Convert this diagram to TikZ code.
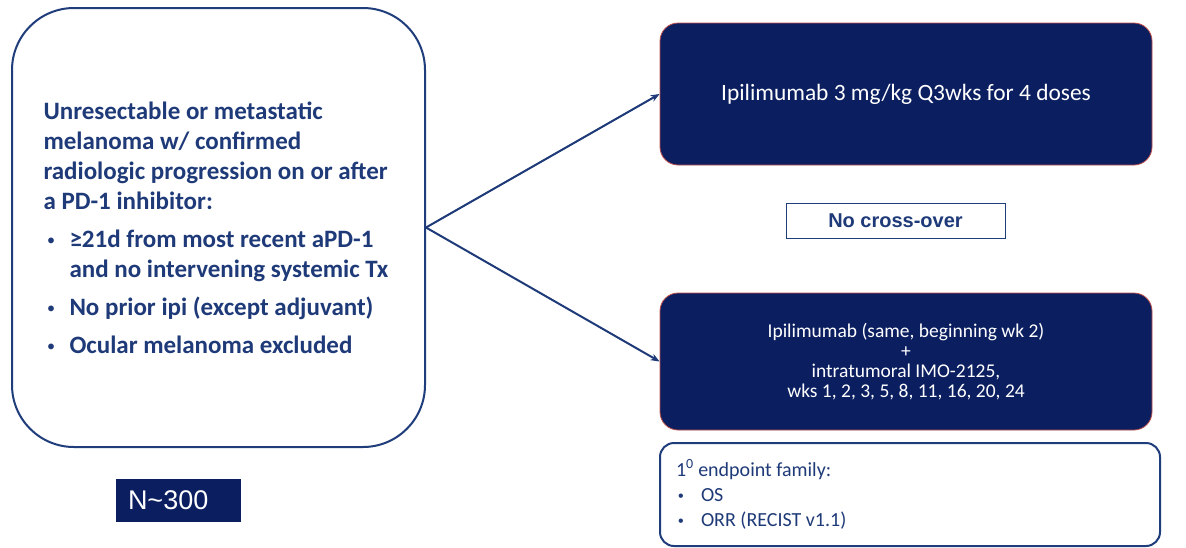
\documentclass[tikz,border=0pt]{standalone}
\usepackage{fontspec}
\setmainfont{Carlito}
\newfontfamily\arialfont{Liberation Sans}
\usetikzlibrary{arrows.meta}
\definecolor{navyfill}{HTML}{0B1F60}
\definecolor{navyline}{HTML}{1F3C7B}
\definecolor{navytext}{HTML}{1F3A78}
\definecolor{redline}{HTML}{C0504D}
\newcommand\smbullet{{\arialfont\scalebox{0.8}{\textbullet}}}
\newcommand\critem[1]{\par\vspace{8pt}\noindent\hangindent=26pt\hangafter=1\makebox[26pt][l]{\hspace{4pt}\smbullet}#1}
\newcommand\epitem[1]{\par\noindent\makebox[25pt][l]{\hspace{2pt}\smbullet}#1}
\tikzset{
  critbox/.style={draw=navyline, line width=2pt, rounded corners=62pt, minimum width=413pt, minimum height=439pt, inner sep=0pt, text=navytext},
  armbox/.style={draw=redline, line width=0.8pt, fill=navyfill, rounded corners=18pt, minimum width=492pt, text=white, align=center, inner sep=0pt},
  endbox/.style={draw=navyline, line width=2pt, rounded corners=14pt, minimum height=103pt, minimum width=500pt, inner sep=0pt, text=navytext},
  notebox/.style={draw=navyline, line width=0.8pt, minimum width=219pt, minimum height=35pt, inner sep=0pt, text=navytext, font=\arialfont\bfseries\fontsize{20}{24}\selectfont},
  nbox/.style={fill=navyfill, minimum height=43pt, text width=101pt, inner xsep=12pt, inner ysep=0pt, align=left, text=white, font=\arialfont\fontsize{27}{30}\selectfont},
  arr/.style={draw=navytext, line width=2pt, -{Stealth[length=9pt,width=7pt]}}
}
\begin{document}
\begin{tikzpicture}[x=1pt,y=-1pt]
\fill[white] (0,0) rectangle (1186,547);
\useasboundingbox (0,0) rectangle (1186,547);
\node[critbox] (elig) at (218.5,227.5) {\begin{minipage}{350pt}\fontsize{25}{30}\selectfont\bfseries
Unresectable or metastatic\\
melanoma w/ confirmed\\
radiologic progression on or after\\
a PD-1 inhibitor:
\critem{≥21d from most recent aPD-1\\and no intervening systemic Tx}
\critem{No prior ipi (except adjuvant)}
\critem{Ocular melanoma excluded}
\end{minipage}};
\node[armbox, minimum height=142pt, font=\fontsize{23.4}{28}\selectfont] (arm1) at (906,94) {Ipilimumab 3 mg/kg Q3wks for 4 doses};
\node[notebox] (nocross) at (895.5,220.5) {No cross-over};
\node[armbox, minimum height=137pt, font=\fontsize{19.5}{20}\selectfont] (arm2) at (906,361.5) {Ipilimumab (same, beginning wk 2)\\+\\intratumoral IMO-2125,\\wks 1, 2, 3, 5, 8, 11, 16, 20, 24};
\node[endbox] (endpt) at (910,494.5) {\begin{minipage}{468pt}\fontsize{20}{25}\selectfont\noindent
1\textsuperscript{0} endpoint family:
\epitem{OS}
\epitem{ORR (RECIST v1.1)}
\end{minipage}};
\node[nbox] (n) at (178.5,500.5) {N\textasciitilde300};
\draw[arr] (elig.east) -- (arm1.west);
\draw[arr] (elig.east) -- (arm2.west);
\end{tikzpicture}
\end{document}
